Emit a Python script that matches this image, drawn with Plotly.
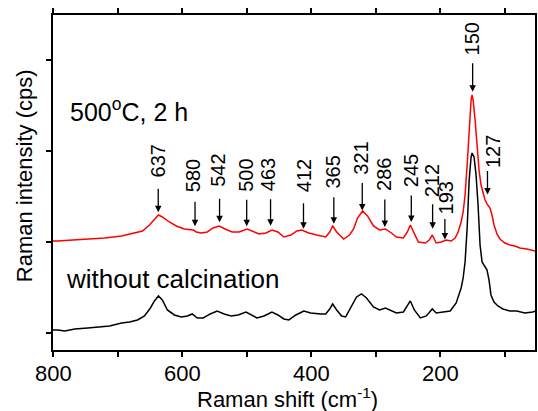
import numpy as np
import plotly.graph_objects as go

# Raman shift (cm^-1) and intensity (cps) of the calcined sample (500 °C, 2 h)
calc_shift = [800, 792.5, 769.4, 746.2, 720.0, 693.8, 673.7, 661.4, 650.6, 642.9, 636.7,
              630.6, 619.8, 609.0, 596.6, 582.7, 578.1, 570.4, 561.1, 551.9, 542.6, 533.4,
              522.6, 511.8, 499.4, 491.7, 480.9, 470.1, 460.9, 451.6, 442.4, 431.6, 422.3,
              414.6, 403.8, 391.5, 377.6, 371.4, 366.8, 360.6, 349.8, 340.6, 334.4, 328.3,
              320.5, 312.8, 303.6, 294.3, 285.0, 275.8, 268.1, 257.3, 251.1, 246.5, 240.3,
              234.1, 223.4, 217.2, 212.5, 206.4, 198.7, 191.0, 183.3, 177.1, 172.5, 167.8,
              164.7, 161.7, 158.5, 155.4, 152.4, 150.9, 149.3, 146.2, 143.1, 140.1, 137.0,
              133.9, 130.8, 127.7, 123.1, 120.0, 116.9, 112.3, 107.7, 100.0, 92.3, 84.5,
              76.8, 66.0, 56.8, 46.0]
calc_int = [2011, 2011, 2022, 2033, 2044, 2066, 2099, 2121, 2187, 2253, 2297,
            2275, 2220, 2176, 2143, 2132, 2110, 2099, 2110, 2154, 2176, 2143,
            2110, 2110, 2143, 2121, 2088, 2099, 2132, 2110, 2055, 2077, 2121,
            2132, 2099, 2077, 2055, 2110, 2176, 2110, 2033, 2077, 2143, 2264,
            2341, 2286, 2176, 2132, 2143, 2099, 2055, 2044, 2110, 2187, 2099,
            2000, 1989, 2022, 2077, 1989, 2000, 2022, 2011, 2044, 2110, 2220,
            2330, 2517, 2846, 3231, 3561, 3616, 3561, 3341, 3011, 2791, 2626,
            2538, 2462, 2418, 2374, 2297, 2187, 2088, 2033, 1989, 1967, 1956,
            1934, 1923, 1912, 1890]

# Raman shift (cm^-1) and intensity (cps) of the as-prepared sample
raw_shift = [800, 792.5, 781.7, 766.3, 746.2, 727.7, 712.3, 693.8, 681.5, 669.1, 658.3,
             649.1, 642.9, 636.7, 630.6, 622.8, 612.0, 601.2, 592.0, 584.3, 576.6, 567.3,
             556.5, 545.7, 534.9, 524.1, 513.3, 501.0, 491.7, 484.0, 473.2, 460.9, 451.6,
             442.4, 434.7, 423.9, 411.5, 400.7, 385.3, 377.6, 371.4, 366.8, 360.6, 352.9,
             346.7, 339.0, 329.8, 322.1, 314.4, 303.6, 294.3, 285.0, 275.8, 268.1, 257.3,
             251.1, 246.5, 240.3, 231.1, 221.8, 212.5, 206.4, 195.6, 184.8, 175.5, 167.8,
             164.7, 161.7, 158.5, 155.4, 152.4, 150.9, 147.8, 144.7, 141.6, 138.5, 135.4,
             130.8, 127.7, 124.6, 121.6, 116.9, 110.8, 103.1, 92.3, 81.5, 69.2, 56.8, 46.0]
raw_int = [1033, 1033, 1022, 1044, 1055, 1066, 1077, 1110, 1121, 1143, 1187,
           1275, 1352, 1407, 1363, 1253, 1198, 1176, 1187, 1209, 1165, 1165,
           1209, 1242, 1209, 1187, 1198, 1231, 1198, 1165, 1187, 1231, 1198,
           1154, 1143, 1198, 1242, 1220, 1209, 1209, 1264, 1319, 1253, 1187,
           1176, 1275, 1396, 1429, 1385, 1286, 1253, 1275, 1242, 1220, 1231,
           1297, 1352, 1253, 1165, 1187, 1264, 1220, 1231, 1242, 1330, 1495,
           1605, 1780, 2154, 2681, 2934, 2978, 2934, 2736, 2407, 1967, 1780,
           1725, 1692, 1582, 1418, 1341, 1297, 1264, 1242, 1242, 1220, 1231, 1253]

# Assigned Raman bands (cm^-1)
bands = [637, 580, 542, 500, 463, 412, 365, 321, 286, 245, 212, 193, 150, 127]

# x-axis tick values
x_ticks = [800, 600, 400, 200]
x_minor = [700, 500, 300, 100]

# Arrow styling per band: gap above the curve, arrow length,
# label centre above the arrow tail, label x-offset (all px)
arrow_gap = [3, 5, 4, 3, 5, 2, 4, 1, 2, 5, 7, 1, 6, 10]
arrow_len = [25, 26, 25, 28, 28, 27, 28, 29, 29, 28, 26, 22, 30, 25]
label_up = [26, 24, 27, 23, 23, 26, 24, 23, 24, 23, 22, 20, 23, 18]
label_dx = [0, -2, -1, -1, -3, 0, -1, -1, -1, 0, -1, 1, -1, 5]

FONT = "Arial, Liberation Sans, sans-serif"

fig = go.Figure()
fig.add_trace(go.Scatter(x=raw_shift, y=raw_int, mode="lines",
                         line=dict(color="black", width=1.5)))
fig.add_trace(go.Scatter(x=calc_shift, y=calc_int, mode="lines",
                         line=dict(color="#ff0000", width=1.5)))

# Arrows and labels pointing at the bands of the calcined spectrum
xs = np.array(calc_shift)[::-1]
ys = np.array(calc_int)[::-1]
for b, gap, ln, up, dx in zip(bands, arrow_gap, arrow_len, label_up, label_dx):
    yb = float(np.interp(b, xs, ys))
    fig.add_annotation(x=b, y=yb, xref="x", yref="y", text="", showarrow=True,
                       ax=0, ay=-ln, yshift=gap, arrowhead=2, arrowsize=1,
                       arrowwidth=1.3, arrowcolor="black", standoff=0)
    fig.add_annotation(x=b, y=yb, xref="x", yref="y", text=str(b), showarrow=False,
                       textangle=-90, xanchor="center", yanchor="middle",
                       yshift=gap + ln + up, xshift=dx,
                       font=dict(family=FONT, size=20, color="black"))

# x tick labels
for v in x_ticks:
    fig.add_annotation(x=v, y=-0.07, xref="x", yref="paper", text=str(v),
                       showarrow=False, xanchor="center", yanchor="middle",
                       font=dict(family=FONT, size=22, color="black"))

fig.add_annotation(x=0.031, y=0.716, xref="paper", yref="paper",
                   text="500<sup>o</sup>C, 2 h", showarrow=False,
                   xanchor="left", yanchor="middle",
                   font=dict(family=FONT, size=25, color="black"))
fig.add_annotation(x=0.023, y=0.212, xref="paper", yref="paper",
                   text="without calcination", showarrow=False,
                   xanchor="left", yanchor="middle",
                   font=dict(family=FONT, size=26, color="black"))

# Axis titles
fig.add_annotation(x=0.4855, y=-0.143, xref="paper", yref="paper",
                   text="Raman shift (cm<sup>-1</sup>)", showarrow=False,
                   xanchor="center", yanchor="middle",
                   font=dict(family=FONT, size=22, color="black"))
fig.add_annotation(x=-0.06, y=0.519, xref="paper", yref="paper",
                   text="Raman intensity (cps)", showarrow=False, textangle=-90,
                   xanchor="center", yanchor="middle",
                   font=dict(family=FONT, size=22, color="black"))

fig.update_layout(
    width=538, height=411,
    margin=dict(l=53, r=1, t=15, b=61),
    plot_bgcolor="white", paper_bgcolor="white",
    showlegend=False,
)
fig.update_xaxes(
    range=[800, 53.4], tickvals=x_ticks, showticklabels=False,
    ticks="outside", ticklen=5, tickwidth=2, tickcolor="black",
    minor=dict(tickvals=x_minor, ticks="outside", ticklen=5,
               tickwidth=2, tickcolor="black"),
    showline=True, linewidth=2, linecolor="black", mirror="ticks",
    showgrid=False, zeroline=False,
)
fig.update_yaxes(
    range=[813, 4495], tickvals=[1000, 2000, 3000, 4000], showticklabels=False,
    ticks="outside", ticklen=5, tickwidth=2, tickcolor="black",
    showline=True, linewidth=2, linecolor="black", mirror=True,
    showgrid=False, zeroline=False,
)

fig.write_html("out.html")
